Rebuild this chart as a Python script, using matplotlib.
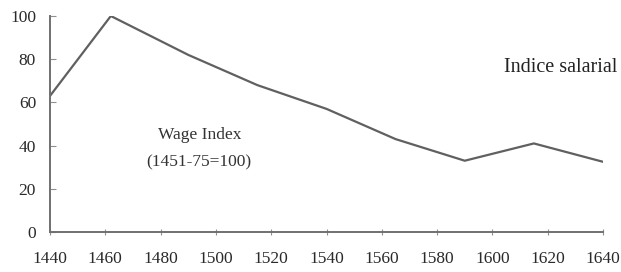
import matplotlib
matplotlib.use("Agg")
import matplotlib.pyplot as plt

years = [1440, 1462, 1490, 1515, 1540, 1565, 1590, 1615, 1640]
wage_index = [63, 100, 82, 68, 57, 43, 33, 41, 32.5]
x_ticks = [1440, 1460, 1480, 1500, 1520, 1540, 1560, 1580, 1600, 1620, 1640]
y_ticks = [0, 20, 40, 60, 80, 100]

plt.rcParams['font.family'] = ['Liberation Serif', 'DejaVu Serif']

fig = plt.figure(figsize=(6.21, 2.72), dpi=100)
ax = fig.add_axes([50/621, 40/272, 553/621, 216/272])
ax.plot(years, wage_index, color='#606060', lw=1.6)
ax.set_xlim(1440, 1640)
ax.set_ylim(0, 100)
ax.set_xticks(x_ticks)
ax.set_yticks(y_ticks)
for s in ['top', 'right']:
    ax.spines[s].set_visible(False)
for s in ['left', 'bottom']:
    ax.spines[s].set_color('#707070')
    ax.spines[s].set_linewidth(1.4)
ax.tick_params(axis='x', direction='inout', length=5, width=0.8, colors='#909090',
               labelcolor='#2a2a2a', labelsize=12.5, pad=11)
ax.tick_params(axis='y', direction='in', length=4, width=0.8, colors='#909090',
               labelcolor='#2a2a2a', labelsize=12.5, pad=10)
ax.text(1494, 45, 'Wage Index', ha='center', va='center', fontsize=12.5, color='#333333')
ax.text(1494, 32, '(1451-75=100)', ha='center', va='center', fontsize=12.5, color='#333333')
fig.text(617/621, 1 - 68/272, 'Indice salarial', ha='right', va='center', fontsize=14.5, color='#222222')
fig.savefig('out.png', dpi=100)
